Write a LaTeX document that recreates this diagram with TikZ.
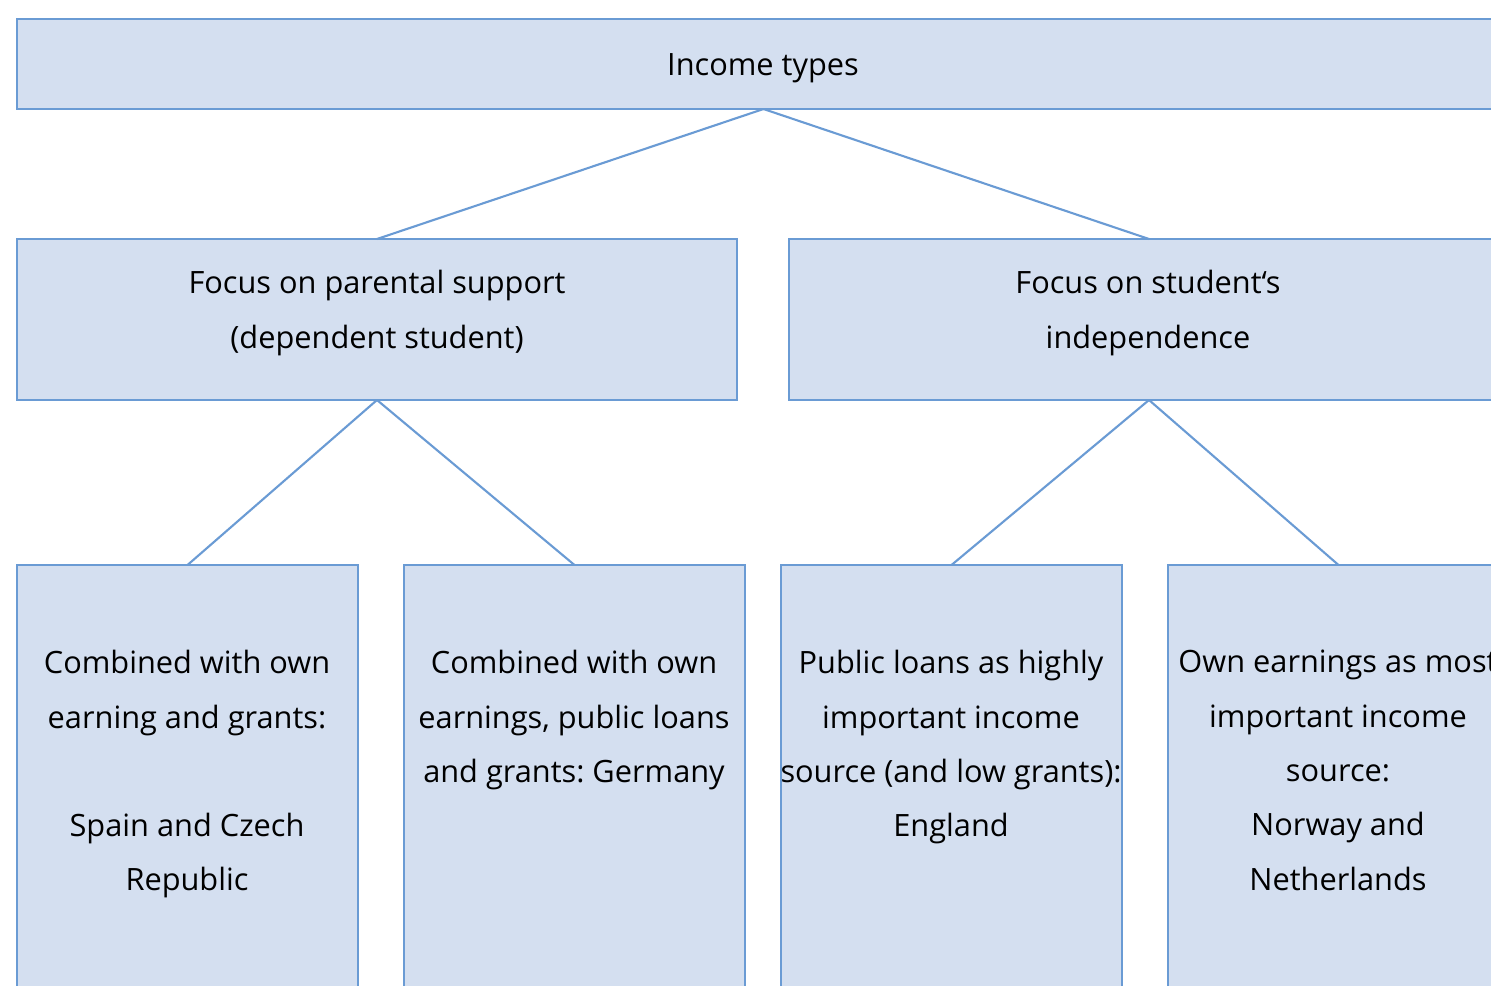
\documentclass[tikz,border=0pt]{standalone}
\usepackage{fontspec}
\setmainfont{Open Sans}
\frenchspacing
\definecolor{boxfill}{HTML}{D4DFF0}
\definecolor{boxline}{HTML}{6A9BD4}
\tikzset{
  box/.style={draw=boxline, fill=boxfill, line width=1.2pt, inner sep=0pt, outer sep=0pt, anchor=north west, rectangle},
  txt/.style={align=center, inner sep=0pt, font=\fontsize{17.5}{30.9}\selectfont, text=black},
  conn/.style={draw=boxline, line width=1.2pt},
}
\begin{document}
\begin{tikzpicture}[x=0.02cm, y=-0.02cm]
\clip (0,0) rectangle (1491,985);
\fill[white] (0,0) rectangle (1491,985);
% top
\node[box, minimum width=1493*0.02cm, minimum height=90*0.02cm] (top) at (17,19) {};
\node[txt] (ttop) at (763,68) {Income types};
% level 2
\node[box, minimum width=720*0.02cm, minimum height=161*0.02cm] (par) at (17,239) {};
\node[txt] (tpar) at (377,313) {Focus on parental support\\(dependent student)};
\node[box, minimum width=720*0.02cm, minimum height=161*0.02cm] (ind) at (789,239) {};
\node[txt] (tind) at (1148,313) {Focus on student‘s\\independence};
% level 3
\node[box, minimum width=341*0.02cm, minimum height=460*0.02cm] (b1) at (17,565) {};
\node[box, minimum width=341*0.02cm, minimum height=460*0.02cm] (b2) at (404,565) {};
\node[box, minimum width=341*0.02cm, minimum height=460*0.02cm] (b3) at (781,565) {};
\node[box, minimum width=341*0.02cm, minimum height=460*0.02cm] (b4) at (1168,565) {};
\node[txt, anchor=north] (t1) at (187,650) {Combined with own\\earning and grants:\\[30.9pt]Spain and Czech\\Republic};
\node[txt, anchor=north] (t2) at (574,650) {Combined with own\\earnings, public loans\\and grants: Germany};
\node[txt, anchor=north] (t3) at (951,650) {Public loans as highly\\important income\\source (and low grants):\\England};
\node[txt, anchor=north] (t4) at (1338,650) {Own earnings as most\\important income\\source:\\Norway and\\Netherlands};
% connectors
\draw[conn] (top.south) -- (par.north);
\draw[conn] (top.south) -- (ind.north);
\draw[conn] (par.south) -- (b1.north);
\draw[conn] (par.south) -- (b2.north);
\draw[conn] (ind.south) -- (b3.north);
\draw[conn] (ind.south) -- (b4.north);
\end{tikzpicture}
\end{document}
